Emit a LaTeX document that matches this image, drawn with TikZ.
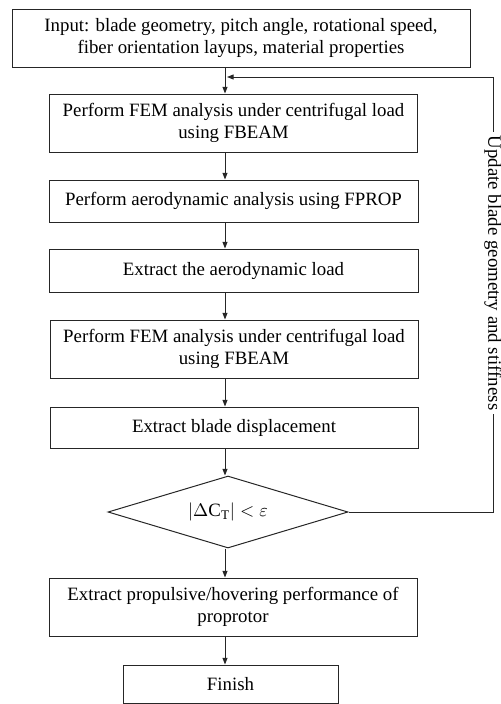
\documentclass[tikz,border=0pt]{standalone}
\usepackage{fontspec}
\setmainfont{Liberation Serif}
\usetikzlibrary{shapes.geometric,arrows.meta}
\tikzset{
    stepbox/.style = {draw = black!85, line width = 0.6pt, align = center, inner sep = 0pt,
        font = \fontsize{11.3}{13}\selectfont},
    flow/.style = {draw = black!85, line width = 0.6pt, -{Triangle[length = 4pt, width = 3pt]}}
}
\begin{document}
\begin{tikzpicture}[x = 0.6pt, y = -0.6pt]
    \useasboundingbox (0,0) rectangle (501,704);
    % boxes, centres taken from the layout
    \node[stepbox, minimum width = 458*0.6pt, minimum height = 58*0.6pt] (in) at (241,38)
        {Input: blade geometry, pitch angle, rotational speed,\\fiber orientation layups, material properties};
    \node[stepbox, minimum width = 368*0.6pt, minimum height = 58*0.6pt] (fem1) at (233.5,123)
        {Perform FEM analysis under centrifugal load\\using FBEAM};
    \node[stepbox, minimum width = 369*0.6pt, minimum height = 42*0.6pt] (aero) at (233.5,201)
        {Perform aerodynamic analysis using FPROP};
    \node[stepbox, minimum width = 369*0.6pt, minimum height = 43*0.6pt] (load) at (233.5,270.5)
        {Extract the aerodynamic load};
    \node[stepbox, minimum width = 368*0.6pt, minimum height = 58*0.6pt] (fem2) at (234,349)
        {Perform FEM analysis under centrifugal load\\using FBEAM};
    \node[stepbox, minimum width = 368*0.6pt, minimum height = 41*0.6pt] (disp) at (234,427.5)
        {Extract blade displacement};
    \node[stepbox, diamond, aspect = 3.3, minimum width = 240*0.6pt, minimum height = 72*0.6pt] (chk) at (228,512)
        {$|\Delta\mathrm{C}_{\mathrm{T}}| < \varepsilon$};
    \node[stepbox, minimum width = 368*0.6pt, minimum height = 58*0.6pt] (perf) at (233,607)
        {Extract propulsive/hovering performance of\\proprotor};
    \node[stepbox, minimum width = 215*0.6pt, minimum height = 38*0.6pt] (fin) at (230.5,684)
        {Finish};
    \node[rotate = -90, inner sep = 2pt, font = \fontsize{11.3}{13}\selectfont] (upd) at (493,273)
        {Update blade geometry and stiffness};
    \coordinate (col) at (225,0);
    \coordinate (tip) at (227,77);
    % main line
    \draw[flow] (in.south -| col) -- (fem1.north -| col);
    \draw[flow] (fem1.south -| col) -- (aero.north -| col);
    \draw[flow] (aero.south -| col) -- (load.north -| col);
    \draw[flow] (load.south -| col) -- (fem2.north -| col);
    \draw[flow] (fem2.south -| col) -- (disp.north -| col);
    \draw[flow] (disp.south -| col) -- (chk.north -| col);
    \draw[flow] (chk.south -| col) -- (perf.north -| col);
    \draw[flow] (perf.south -| col) -- (fin.north -| col);
    % feedback, label sits in a gap of the line
    \draw[draw = black!85, line width = 0.6pt] (chk.east) -| (upd.east);
    \draw[flow] (upd.west) |- (tip);
\end{tikzpicture}
\end{document}
